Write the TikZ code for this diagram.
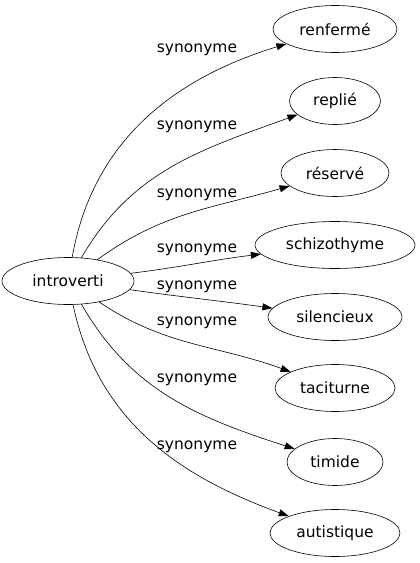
\documentclass[tikz,border=0pt]{standalone}
\usepackage{fontspec}
\setmainfont{DejaVu Sans}
\usetikzlibrary{shapes.geometric,arrows.meta}
\begin{document}
\begin{tikzpicture}[x=1pt,y=1pt,>={Triangle[length=10pt,width=7pt]}, font=\fontsize{15.5}{18}\selectfont, semithick, line join=round, line cap=round,
		mot/.style={draw,ellipse,minimum height=47pt,inner sep=0pt}]
			\useasboundingbox (0,0) rectangle (420,-563);
			\node[mot,minimum width=132pt] (introverti) at (68,-281) {introverti};
			\foreach \nom/\txt/\y/\w/\o/\i/\ly in {renferme/renfermé/29/124/80/197/50, replie/replié/101/91/60/200/127, reserve/réservé/173/108/36/196/195, schizo/schizothyme/245/160/7/187/250, silencieux/silencieux/317/134/-8/172/287, taciturne/taciturne/388/120/-34/160/323, timide/timide/462/96/-60/162/380, autistique/autistique/533/130/-78/160/447}{
				\node[mot,minimum width=\w pt] (\nom) at (335,-\y) {\txt};
				\draw[->] (introverti) to[out=\o,in=\i] (\nom);
				\node (lbl-\nom) at (197,-\ly) {synonyme};
			}
		\end{tikzpicture}
\end{document}
